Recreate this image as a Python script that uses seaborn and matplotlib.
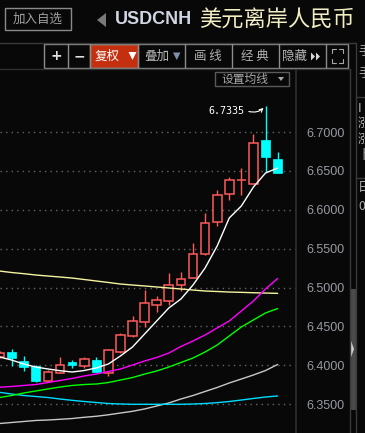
import numpy as np
import pandas as pd
import matplotlib
matplotlib.use('Agg')
import matplotlib.pyplot as plt
import seaborn as sns
from matplotlib.patches import Rectangle, Polygon
from matplotlib.lines import Line2D

# daily candles, USDCNH
days = list(range(24))
opens = [6.4113, 6.4168, 6.4057, 6.3992, 6.3796, 6.3908, 6.4040, 6.3992, 6.4066, 6.3908, 6.4172, 6.4378,
         6.4563, 6.4782, 6.4828, 6.5030, 6.5129, 6.5437, 6.5848, 6.6208, 6.6379, 6.6337, 6.6893, 6.6658]
closes = [6.4165, 6.4091, 6.3985, 6.3796, 6.3920, 6.4010, 6.4005, 6.4079, 6.3915, 6.4194, 6.4387, 6.4567,
          6.4798, 6.4837, 6.5030, 6.5116, 6.5437, 6.5836, 6.6195, 6.6379, 6.6388, 6.6864, 6.6679, 6.6478]
highs = [6.4180, 6.4207, 6.4117, 6.4000, 6.3941, 6.4104, 6.4066, 6.4108, 6.4108, 6.4216, 6.4413, 6.4635,
         6.4965, 6.4892, 6.5184, 6.5201, 6.5578, 6.5964, 6.6251, 6.6418, 6.6533, 6.6970, 6.7335, 6.6743]
lows = [6.4100, 6.3989, 6.3928, 6.3787, 6.3790, 6.3905, 6.3963, 6.3963, 6.3910, 6.3864, 6.4156, 6.4370,
        6.4499, 6.4686, 6.4776, 6.4956, 6.5125, 6.5415, 6.5792, 6.6122, 6.6195, 6.6330, 6.6486, 6.6475]

# moving averages
ma_white = [6.4108, 6.4069, 6.4018, 6.3979, 6.3954, 6.3932, 6.3915, 6.3934, 6.3967, 6.4018, 6.4121, 6.4237,
            6.4404, 6.4571, 6.4738, 6.4853, 6.5033, 6.5252, 6.5535, 6.5895, 6.6049, 6.6293, 6.6473, 6.6537]
ma_magenta = [6.3719, 6.3729, 6.3742, 6.3754, 6.3780, 6.3806, 6.3832, 6.3864, 6.3889, 6.3922, 6.3954, 6.4005,
              6.4057, 6.4102, 6.4159, 6.4243, 6.4314, 6.4391, 6.4481, 6.4571, 6.4699, 6.4828, 6.4982, 6.5117]
ma_green = [6.3587, 6.3613, 6.3645, 6.3671, 6.3697, 6.3722, 6.3742, 6.3754, 6.3761, 6.3780, 6.3812, 6.3844,
            6.3889, 6.3928, 6.3979, 6.4037, 6.4095, 6.4172, 6.4262, 6.4378, 6.4494, 6.4584, 6.4674, 6.4731]
ma_cyan = [6.3654, 6.3632, 6.3613, 6.3600, 6.3587, 6.3568, 6.3551, 6.3536, 6.3523, 6.3510, 6.3504, 6.3500,
           6.3500, 6.3500, 6.3500, 6.3500, 6.3504, 6.3510, 6.3521, 6.3536, 6.3555, 6.3575, 6.3594, 6.3607]
ma_gray = [6.3253, 6.3266, 6.3279, 6.3292, 6.3298, 6.3307, 6.3317, 6.3333, 6.3346, 6.3365, 6.3388, 6.3410,
           6.3440, 6.3478, 6.3517, 6.3568, 6.3613, 6.3665, 6.3716, 6.3774, 6.3825, 6.3877, 6.3934, 6.4012]
ma_yellow = [6.5213, 6.5194, 6.5179, 6.5162, 6.5149, 6.5136, 6.5123, 6.5104, 6.5085, 6.5066, 6.5046, 6.5033,
             6.5021, 6.5008, 6.4995, 6.4982, 6.4969, 6.4956, 6.4950, 6.4943, 6.4939, 6.4934, 6.4930, 6.4926]
price_ticks = [6.35, 6.40, 6.45, 6.50, 6.55, 6.60, 6.65, 6.70]

BG = '#080808'
UP = '#ff5a5a'
DOWN = '#00ffff'

sns.set_theme(style='dark', rc={'axes.facecolor': BG, 'figure.facecolor': BG})
plt.rcParams['font.family'] = ['Noto Sans CJK SC', 'DejaVu Sans']

W, H = 365, 433
fig = plt.figure(figsize=(W / 100, H / 100), dpi=100, facecolor=BG)


def fx(x):
    return x / W


def fy(y):
    return 1 - y / H


def hline(y, x0, x1, color='#3a3a3a', lw=1.0):
    fig.add_artist(Line2D([fx(x0), fx(x1)], [fy(y), fy(y)], color=color, lw=lw, transform=fig.transFigure))


def vline(x, y0, y1, color='#3a3a3a', lw=1.0):
    fig.add_artist(Line2D([fx(x), fx(x)], [fy(y0), fy(y1)], color=color, lw=lw, transform=fig.transFigure))


def box(x0, y0, x1, y1, ec='#8c8c8c', fc='none', lw=1.0):
    fig.add_artist(Rectangle((fx(x0), fy(y1)), (x1 - x0) / W, (y1 - y0) / H, transform=fig.transFigure,
                             ec=ec, fc=fc, lw=lw))


def tri(pts, color):
    fig.add_artist(Polygon([(fx(x), fy(y)) for x, y in pts], closed=True,
                           transform=fig.transFigure, fc=color, ec='none'))


# ---- main chart ----
ax = fig.add_axes([0, 0, 296 / W, (H - 69) / H])
ax.set_facecolor(BG)

for d, o, c, h, l in zip(days, opens, closes, highs, lows):
    if c >= o:
        ax.vlines(d, l, h, color=UP, lw=1.0, zorder=2)
        ax.bar(d, max(c - o, 0.0004), bottom=o, width=0.72, facecolor=BG, edgecolor=UP, lw=1.1, zorder=3)
    else:
        ax.vlines(d, l, h, color=DOWN, lw=1.0, zorder=2)
        ax.bar(d, o - c, bottom=c, width=0.72, facecolor=DOWN, edgecolor=DOWN, lw=0.5, zorder=3)

ma_df = pd.DataFrame({
    'day': days * 6,
    'price': ma_yellow + ma_gray + ma_cyan + ma_green + ma_magenta + ma_white,
    'ma': ['yellow'] * 24 + ['gray'] * 24 + ['cyan'] * 24 + ['green'] * 24 + ['magenta'] * 24 + ['white'] * 24,
})
palette = {'yellow': '#f4f4a0', 'gray': '#c8c8c8', 'cyan': '#00dcff', 'green': '#00ff00',
           'magenta': '#ff00ff', 'white': '#ffffff'}
sns.lineplot(data=ma_df, x='day', y='price', hue='ma', palette=palette, legend=False,
             ax=ax, linewidth=1.0, zorder=4)

ax.set_xlim(0.04, 24.52)
ax.set_ylim(6.3131, 6.7810)
ax.set_yticks(price_ticks)
ax.yaxis.tick_right()
ax.set_yticklabels([f'{p:.4f}' for p in price_ticks], family='Liberation Sans', fontsize=9, color='#969aa0')
ax.tick_params(axis='y', length=0, pad=7.5)
ax.set_xticks([])
ax.set_xlabel('')
ax.set_ylabel('')
ax.grid(axis='y', color='#666666', linestyle=(0, (1, 3)), linewidth=1.0)
ax.grid(axis='x', visible=False)
for side in ['top', 'left', 'bottom']:
    ax.spines[side].set_visible(False)
ax.spines['right'].set_color('#2e2e2e')

# max price note
ax.annotate(f'{highs[22]:.4f}', xy=(22, highs[22]), xytext=(-28.5, -3.5), textcoords='offset points',
            ha='center', va='center', color='white', fontsize=7.2, family='DejaVu Sans Mono')
ax.annotate('', xy=(22, highs[22]), xytext=(-12, -4), textcoords='offset points',
            arrowprops=dict(arrowstyle='->', color='white', lw=0.8, shrinkA=0, shrinkB=2,
                            connectionstyle='arc3,rad=0.3', mutation_scale=6))

# ---- header ----
box(5, 8, 71, 30, ec='#8a8a8a')
fig.text(fx(38), fy(19.5), '加入自选', ha='center', va='center', color='#a0a0a0', fontsize=9)
tri([(106, 13), (106, 27), (97, 20)], '#7a7a7a')
fig.text(fx(114.5), fy(19.5), 'USDCNH', ha='left', va='center', color='#d0d6e4', fontsize=13,
         weight='bold', family='Liberation Sans')
fig.text(fx(199), fy(20), '美元离岸人民币', ha='left', va='center', color='#f2eec4', fontsize=16)

hline(42.5, 0, 355.5)
vline(355.5, 42.5, H)

# toolbar
edges = [44.3, 67.7, 90.3, 138.3, 185, 231.7, 279, 325.7, 348.3]
box(90.3, 44.3, 138.3, 67.7, ec='#8c8c8c', fc='#c4300f')
box(44.3, 44.3, 348.3, 67.7, ec='#8c8c8c')
for e in edges[1:-1]:
    vline(e, 44.3, 67.7, color='#8c8c8c')
ty = fy(56.5)
fig.text(fx(56), ty, '+', ha='center', va='center', color='#e0e0e0', fontsize=10, weight='bold',
         family='DejaVu Sans')
fig.text(fx(79), ty, '−', ha='center', va='center', color='#e0e0e0', fontsize=10, weight='bold',
         family='DejaVu Sans')
fig.text(fx(107.5), ty, '复权', ha='center', va='center', color='white', fontsize=9)
tri([(128.5, 52), (136.5, 52), (132.5, 60)], 'white')
fig.text(fx(156.5), ty, '叠加', ha='center', va='center', color='#b8b8b8', fontsize=9)
tri([(173, 52.5), (180.5, 52.5), (176.75, 60)], '#8090a8')
fig.text(fx(208), ty, '画 线', ha='center', va='center', color='#b0b0b0', fontsize=9)
fig.text(fx(255), ty, '经 典', ha='center', va='center', color='#b0b0b0', fontsize=9)
fig.text(fx(294.5), ty, '隐藏', ha='center', va='center', color='#b8b8b8', fontsize=9)
tri([(311, 52.5), (311, 60.5), (315, 56.5)], '#d8d8d8')
tri([(316, 52.5), (316, 60.5), (320, 56.5)], '#d8d8d8')
# fullscreen icon
for cx, cy, sx, sy in [(332, 49, 1, 1), (343, 49, -1, 1), (332, 63, 1, -1), (343, 63, -1, -1)]:
    fig.add_artist(Line2D([fx(cx), fx(cx), fx(cx + 4 * sx)], [fy(cy + 4 * sy), fy(cy), fy(cy)],
                          color='#a8a8a8', lw=0.8, transform=fig.transFigure))

# chart frame pieces
hline(69, 0, 349.5, color='#2e2e2e')
vline(349.5, 69, H)
fig.add_artist(Rectangle((fx(350), fy(410)), 5.7 / W, 121 / H, transform=fig.transFigure,
                         fc='#4a4a4a', ec='none'))
tri([(350, 338), (350, 360), (354, 349)], '#d0d0d0')

box(215, 72, 289, 85.5, ec='#5a5a5a')
fig.text(fx(222), fy(79), '设置均线', ha='left', va='center', color='#a8a8a8', fontsize=8.5)
tri([(278, 77), (284, 77), (281, 81)], '#a8a8a8')

# right side panel (cut off at the edge, as in the screenshot)
hline(96.7, 355.5, W)
hline(177.7, 355.5, W)
for y, s in [(52, '手'), (73, '手'), (108, 'I'), (123, '涨'), (139, '涨'), (155, '卜'), (187, '日'), (207, '0')]:
    fig.text(fx(358), fy(y), s, ha='left', va='center', color='#b0b0b0', fontsize=9)

fig.savefig('out.png', dpi=100, facecolor=BG)
plt.close(fig)
